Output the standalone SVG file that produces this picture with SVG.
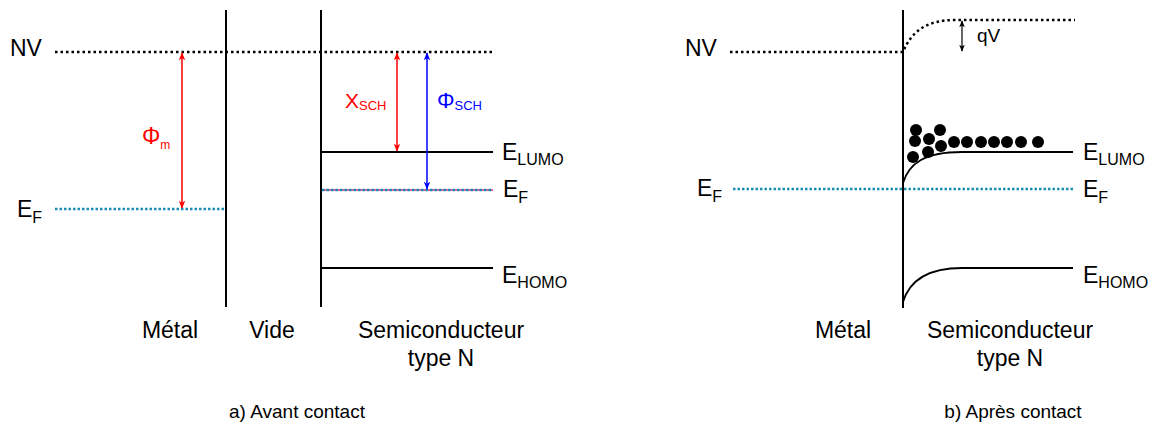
<svg xmlns="http://www.w3.org/2000/svg" width="1154" height="427" viewBox="0 0 1154 427">
<defs>
<marker id="ar" viewBox="0 0 10 10" refX="9" refY="5" markerWidth="8" markerHeight="8" markerUnits="userSpaceOnUse" orient="auto-start-reverse"><path d="M0,1 L10,5 L0,9 L2.5,5 z" fill="#f00"/></marker>
<marker id="ab" viewBox="0 0 10 10" refX="9" refY="5" markerWidth="8" markerHeight="8" markerUnits="userSpaceOnUse" orient="auto-start-reverse"><path d="M0,1 L10,5 L0,9 L2.5,5 z" fill="#00f"/></marker>
<marker id="ak" viewBox="0 0 10 10" refX="9" refY="5" markerWidth="7" markerHeight="7" markerUnits="userSpaceOnUse" orient="auto-start-reverse"><path d="M0,1 L10,5 L0,9 L2.5,5 z" fill="#000"/></marker>
</defs>
<style>
text{font-family:"Liberation Sans",Arial,sans-serif;fill:#000}
.lbl{font-size:23px}
.cap{font-size:19px;text-anchor:middle}
.mid{text-anchor:middle}
.sub{font-size:16px}
.wall{stroke:#000;stroke-width:2;fill:none}
.lvl{stroke:#000;stroke-width:1.8;fill:none}
.nv{stroke:#000;stroke-width:2.5;stroke-dasharray:2.5 3;fill:none}
.ef{stroke:#1b8db5;stroke-width:2.5;stroke-dasharray:2.5 2;fill:none}
.red{stroke:#f00;stroke-width:1.5;fill:none}
.blue{stroke:#00f;stroke-width:1.5;fill:none}
.blk{stroke:#000;stroke-width:1.2;fill:none}
.dot{fill:#000}
</style>

<g id="panel-a">
  <g id="walls-a">
    <line class="wall" x1="226" y1="10" x2="226" y2="307"/>
    <line class="wall" x1="321" y1="10" x2="321" y2="307"/>
  </g>
  <g id="levels-a">
    <line class="nv" x1="55" y1="52" x2="495" y2="52"/>
    <line class="ef" x1="55" y1="209" x2="226" y2="209"/>
    <line class="lvl" x1="322" y1="152" x2="493" y2="152"/>
    <line x1="322" y1="190" x2="493" y2="190" stroke="#e0609a" stroke-width="2"/>
    <line class="ef" x1="322" y1="190" x2="493" y2="190"/>
    <line class="lvl" x1="322" y1="268" x2="493" y2="268"/>
  </g>
  <g id="connectors-a">
    <line class="red" x1="182" y1="53" x2="182" y2="208" marker-start="url(#ar)" marker-end="url(#ar)"/>
    <line class="red" x1="397" y1="53" x2="397" y2="151" marker-start="url(#ar)" marker-end="url(#ar)"/>
    <line class="blue" x1="427" y1="53" x2="427" y2="189" marker-start="url(#ab)" marker-end="url(#ab)"/>
  </g>
  <g id="labels-a">
    <text class="lbl" x="10" y="56">NV</text>
    <text class="lbl" x="17" y="217">E<tspan class="sub" dy="6">F</tspan></text>
    <text x="142" y="144" style="font-size:23px;fill:#f00">Φ<tspan dy="5" style="font-size:12px;fill:#f00">m</tspan></text>
    <text x="345" y="108" style="font-size:21px;fill:#f00">Χ<tspan dy="2" style="font-size:13px;fill:#f00">SCH</tspan></text>
    <text x="437" y="108" style="font-size:22px;fill:#00f">Φ<tspan dy="2" style="font-size:13px;fill:#00f">SCH</tspan></text>
    <text class="lbl" x="502" y="160">E<tspan class="sub" dy="5">LUMO</tspan></text>
    <text class="lbl" x="503" y="197">E<tspan class="sub" dy="6">F</tspan></text>
    <text class="lbl" x="502" y="283">E<tspan class="sub" dy="5">HOMO</tspan></text>
    <text class="lbl mid" x="170" y="338">Métal</text>
    <text class="lbl mid" x="272" y="338">Vide</text>
    <text class="lbl mid" x="441" y="338">Semiconducteur</text>
    <text class="lbl mid" x="441" y="366">type N</text>
    <text class="cap" x="297" y="418">a) Avant contact</text>
  </g>
</g>

<g id="panel-b">
  <g id="wall-b">
    <line class="wall" x1="903" y1="10" x2="903" y2="308"/>
  </g>
  <g id="levels-b">
    <path class="nv" d="M730,52 L903,52 C912,30 928,20 955,20 L1075,20"/>
    <line class="ef" x1="733" y1="189" x2="1073" y2="189"/>
    <path class="lvl" d="M903,183 C909,163 925,152 962,152 L1073,152"/>
    <path class="lvl" d="M903,302 C909,282 925,268 962,268 L1073,268"/>
  </g>
  <g id="electrons">
    <circle class="dot" cx="916" cy="130" r="6"/>
    <circle class="dot" cx="940" cy="130" r="6"/>
    <circle class="dot" cx="915" cy="141" r="6"/>
    <circle class="dot" cx="929" cy="139" r="6"/>
    <circle class="dot" cx="941" cy="146" r="6"/>
    <circle class="dot" cx="913" cy="157" r="6"/>
    <circle class="dot" cx="928" cy="152" r="6"/>
    <circle class="dot" cx="954" cy="142" r="6"/>
    <circle class="dot" cx="967" cy="142" r="6"/>
    <circle class="dot" cx="981" cy="142" r="6"/>
    <circle class="dot" cx="994" cy="142" r="6"/>
    <circle class="dot" cx="1007" cy="142" r="6"/>
    <circle class="dot" cx="1021" cy="142" r="6"/>
    <circle class="dot" cx="1038" cy="142" r="6"/>
  </g>
  <g id="connectors-b">
    <line class="blk" x1="962" y1="21" x2="962" y2="51" marker-start="url(#ak)" marker-end="url(#ak)"/>
  </g>
  <g id="labels-b">
    <text class="lbl" x="685" y="56">NV</text>
    <text x="977" y="42" style="font-size:19px">qV</text>
    <text class="lbl" x="697" y="196">E<tspan class="sub" dy="6">F</tspan></text>
    <text class="lbl" x="1083" y="160">E<tspan class="sub" dy="5">LUMO</tspan></text>
    <text class="lbl" x="1083" y="197">E<tspan class="sub" dy="6">F</tspan></text>
    <text class="lbl" x="1083" y="283">E<tspan class="sub" dy="5">HOMO</tspan></text>
    <text class="lbl mid" x="843" y="338">Métal</text>
    <text class="lbl mid" x="1010" y="338">Semiconducteur</text>
    <text class="lbl mid" x="1010" y="366">type N</text>
    <text class="cap" x="1013" y="418">b) Après contact</text>
  </g>
</g>
</svg>
